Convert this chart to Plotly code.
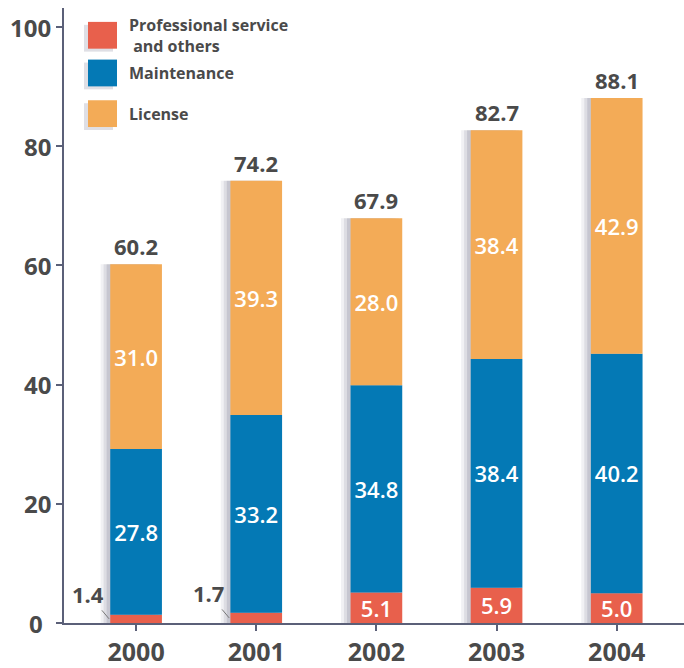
import plotly.graph_objects as go

years = ["2000", "2001", "2002", "2003", "2004"]
professional = [1.4, 1.7, 5.1, 5.9, 5.0]
maintenance = [27.8, 33.2, 34.8, 38.4, 40.2]
license_ = [31.0, 39.3, 28.0, 38.4, 42.9]
totals = [60.2, 74.2, 67.9, 82.7, 88.1]
legend_labels = ["Professional service<br> and others", "Maintenance", "License"]
y_ticks = [0, 20, 40, 60, 80, 100]

C_PRO = "#E8604C"
C_MAI = "#0479B5"
C_LIC = "#F3AB57"
TXT = "#4a4a4a"
AXIS = "#5b6078"
FONT = "Open Sans"

W, H = 684, 668
ML, MR, MT, MB = 64, 0, 8, 40
PW, PH = W - ML - MR, H - MT - MB
BW = 0.43


def px(xp):
    return (xp - ML) / PW


def py(yp):
    return (H - MB - yp) / PH


base_mai = professional
base_lic = [p + m for p, m in zip(professional, maintenance)]
small = [v < 3 for v in professional]

fig = go.Figure()

# soft shadows behind bars
for off, op in [(0.08, 0.08), (0.055, 0.12), (0.03, 0.16)]:
    fig.add_trace(go.Bar(
        x=years, y=totals, base=[0] * len(totals), width=BW,
        offset=-BW / 2 - off, marker=dict(color=f"rgba(80,80,110,{op})", line_width=0),
        hoverinfo="skip", showlegend=False))

seg_font = dict(color="white", size=22, family=FONT, weight=600)
fig.add_trace(go.Bar(
    x=years, y=professional, base=[0] * len(years), width=BW, offset=-BW / 2,
    marker=dict(color=C_PRO, line_width=0),
    text=["" if s else f"{v:.1f}" for v, s in zip(professional, small)],
    textposition="inside", insidetextanchor="middle", constraintext="none", textangle=0,
    textfont=seg_font, showlegend=False))
fig.add_trace(go.Bar(
    x=years, y=maintenance, base=base_mai, width=BW, offset=-BW / 2,
    marker=dict(color=C_MAI, line_width=0),
    text=[f"{v:.1f}" for v in maintenance],
    textposition="inside", insidetextanchor="middle", constraintext="none", textangle=0,
    textfont=seg_font, showlegend=False))
fig.add_trace(go.Bar(
    x=years, y=license_, base=base_lic, width=BW, offset=-BW / 2,
    marker=dict(color=C_LIC, line_width=0),
    text=[f"{v:.1f}" for v in license_],
    textposition="inside", insidetextanchor="middle", constraintext="none", textangle=0,
    textfont=seg_font, showlegend=False))

annotations = []
# totals above bars
for i, tot in enumerate(totals):
    annotations.append(dict(x=i, y=tot, xref="x", yref="y", text=f"{tot:.1f}",
                            showarrow=False, xanchor="center", yanchor="middle", yshift=18,
                            font=dict(color=TXT, size=22, family=FONT, weight="bold")))

for i, (v, s) in enumerate(zip(professional, small)):
    if s:
        annotations.append(dict(
            x=i - BW / 2 - 0.01, y=v / 2, xref="x", yref="y", text=f"{v:.1f}",
            showarrow=True, arrowhead=0, arrowwidth=1, arrowcolor="#777777",
            ax=-21, ay=-25, font=dict(color=TXT, size=22, family=FONT, weight="bold"),
            xanchor="center", yanchor="middle"))

# y-axis tick labels
for t in y_ticks:
    if t == 0:
        annotations.append(dict(x=px(36), y=t, xref="paper", yref="y", text=str(t),
                                showarrow=False, xanchor="center", yanchor="middle",
                                font=dict(color=TXT, size=24, family=FONT, weight="bold")))
    else:
        annotations.append(dict(x=px(53), y=t, xref="paper", yref="y", text=str(t),
                                showarrow=False, xanchor="right", yanchor="middle",
                                font=dict(color=TXT, size=24, family=FONT, weight="bold")))

shapes = []
legend_colors = [C_PRO, C_MAI, C_LIC]
legend_tops = [22, 60, 101]
for col, top, lab in zip(legend_colors, legend_tops, legend_labels):
    shapes.append(dict(type="rect", xref="paper", yref="paper",
                       x0=px(84), x1=px(113), y0=py(top + 30), y1=py(top + 3),
                       fillcolor="rgba(80,80,110,0.18)", line_width=0, layer="above"))
    shapes.append(dict(type="rect", xref="paper", yref="paper",
                       x0=px(88), x1=px(117), y0=py(top + 27), y1=py(top),
                       fillcolor=col, line_width=0, layer="above"))
    annotations.append(dict(
        x=px(127), y=py(top + 13.5), xref="paper", yref="paper", text=lab,
        showarrow=False, xanchor="left", yanchor="middle", align="left",
        font=dict(color=TXT, size=16, family=FONT, weight="bold")))

fig.update_layout(
    width=W, height=H, barmode="overlay",
    margin=dict(l=ML, r=MR, t=MT, b=MB, pad=0),
    plot_bgcolor="white", paper_bgcolor="white",
    font=dict(family=FONT, color=TXT),
    annotations=annotations, shapes=shapes,
    xaxis=dict(type="category", categoryorder="array", categoryarray=years,
               range=[-0.6, 4.56], showline=True, linecolor=AXIS, linewidth=2,
               ticks="outside", ticklen=6, tickwidth=2, tickcolor=AXIS,
               showgrid=False, zeroline=False,
               tickfont=dict(size=25, color=TXT, family=FONT, weight="bold")),
    yaxis=dict(range=[0, 103.2], tickvals=y_ticks, showticklabels=False,
               showline=True, linecolor=AXIS,
               linewidth=2, ticks="outside", ticklen=6, tickwidth=1.5, tickcolor=AXIS,
               showgrid=False, zeroline=False),
)

fig.write_html("out.html")
